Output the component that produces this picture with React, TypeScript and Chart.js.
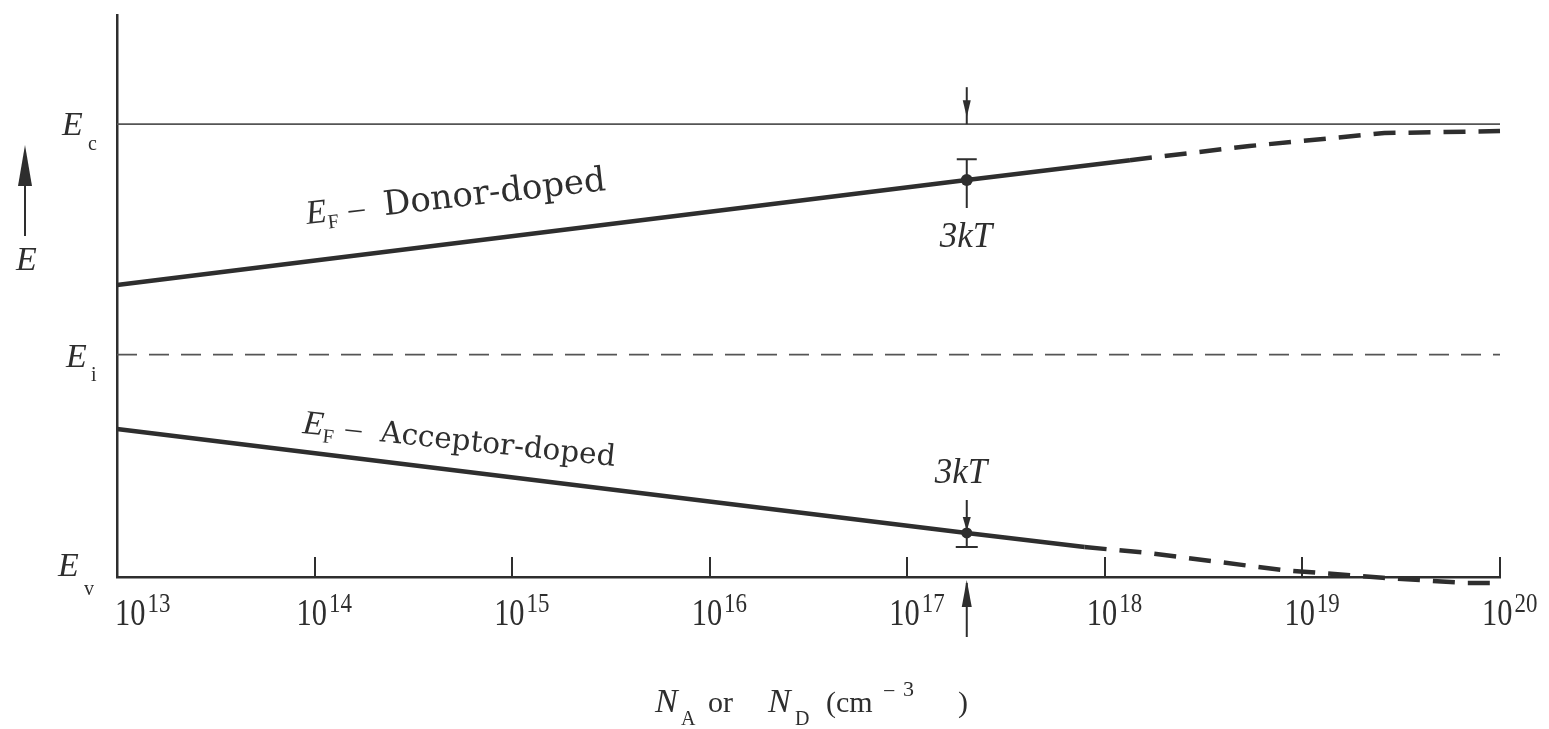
import React, { useEffect, useRef } from "react";
import { Chart, registerables } from "chart.js";

Chart.register(...registerables);

// ---- data ----
const decades = [1e13, 1e14, 1e15, 1e16, 1e17, 1e18, 1e19, 1e20];
const exponentLabels = ["13", "14", "15", "16", "17", "18", "19", "20"];

const levelEc = 1.12;
const levelEi = 0.55;
const levelEv = 0;

const donorSolidX = [1e13, 2e17, 1.34e18];
const donorSolidE = [0.722, 0.982, 1.031];
const donorDashX = [1.34e18, 5.4e18, 2.6e19, 1e20];
const donorDashE = [1.031, 1.066, 1.098, 1.103];

const acceptorSolidX = [1e13, 2e17, 7.9e17];
const acceptorSolidE = [0.366, 0.109, 0.074];
const acceptorDashX = [7.9e17, 1.69e18, 7.96e18, 2.55e19, 6.8e19, 1e20];
const acceptorDashE = [0.074, 0.059, 0.017, -0.002, -0.015, -0.015];

const markerX = 2e17;

const INK = "#2e2e2e";

const pts = (xs: number[], ys: number[]) => xs.map((x, i) => ({ x, y: ys[i] }));

type Part = { t: string; font: string; dx?: number; dy?: number; sx?: number };

function drawParts(ctx: CanvasRenderingContext2D, x: number, y: number, angle: number, parts: Part[]) {
  ctx.save();
  ctx.translate(x, y);
  ctx.rotate(angle);
  let cx = 0;
  for (const p of parts) {
    cx += p.dx || 0;
    ctx.font = p.font;
    const sx = p.sx || 1;
    const w = ctx.measureText(p.t).width * sx;
    ctx.save();
    ctx.translate(cx, p.dy || 0);
    ctx.scale(sx, 1);
    ctx.fillText(p.t, 0, 0);
    ctx.restore();
    cx += w;
  }
  ctx.restore();
}

function tri(ctx: CanvasRenderingContext2D, x: number, tipY: number, baseY: number, half: number) {
  ctx.beginPath();
  ctx.moveTo(x, tipY);
  ctx.lineTo(x - half, baseY);
  ctx.lineTo(x + half, baseY);
  ctx.closePath();
  ctx.fill();
}

const annotPlugin = {
  id: "annot",
  afterDraw(chart: any) {
    const { ctx } = chart;
    const xs = chart.scales.x;
    const ys = chart.scales.y;
    const y0 = ys.getPixelForValue(levelEv);
    ctx.save();
    ctx.fillStyle = INK;
    ctx.strokeStyle = INK;
    ctx.textBaseline = "alphabetic";
    ctx.textAlign = "left";

    // inner tick marks
    ctx.lineWidth = 2;
    for (let i = 1; i < decades.length; i++) {
      const px = Math.round(xs.getPixelForValue(decades[i]));
      ctx.beginPath();
      ctx.moveTo(px, y0);
      ctx.lineTo(px, y0 - 20);
      ctx.stroke();
    }

    // tick labels
    for (let i = 0; i < decades.length; i++) {
      const px = xs.getPixelForValue(decades[i]);
      const start = Math.min(Math.max(px - 18, 115), 1549 - 57);
      drawParts(ctx, start, 625, 0, [
        { t: "10", font: "38px 'Liberation Serif'", sx: 0.8 },
        { t: exponentLabels[i], font: "27px 'Liberation Serif'", dx: 2, dy: -13, sx: 0.85 },
      ]);
    }

    // axis title
    const ser = "'Liberation Serif'";
    drawParts(ctx, 655, 712, 0, [{ t: "N", font: `italic 34px ${ser}` }]);
    drawParts(ctx, 681, 725, 0, [{ t: "A", font: `20px ${ser}` }]);
    drawParts(ctx, 708, 712, 0, [{ t: "or", font: `30px ${ser}` }]);
    drawParts(ctx, 768, 712, 0, [{ t: "N", font: `italic 34px ${ser}` }]);
    drawParts(ctx, 795, 725, 0, [{ t: "D", font: `20px ${ser}` }]);
    drawParts(ctx, 826, 712, 0, [{ t: "(cm", font: `30px ${ser}` }]);
    drawParts(ctx, 883, 698, 0, [{ t: "\u2212", font: `22px ${ser}` }]);
    drawParts(ctx, 903, 696, 0, [{ t: "3", font: `22px ${ser}` }]);
    drawParts(ctx, 958, 712, 0, [{ t: ")", font: `30px ${ser}` }]);

    // left level labels
    const italE = `italic 34px ${ser}`;
    drawParts(ctx, 62, 135, 0, [{ t: "E", font: italE }]);
    drawParts(ctx, 88, 150, 0, [{ t: "c", font: `20px ${ser}` }]);
    drawParts(ctx, 66, 367, 0, [{ t: "E", font: italE }]);
    drawParts(ctx, 91, 381, 0, [{ t: "i", font: `20px ${ser}` }]);
    drawParts(ctx, 58, 576, 0, [{ t: "E", font: italE }]);
    drawParts(ctx, 84, 595, 0, [{ t: "v", font: `20px ${ser}` }]);

    // energy arrow
    ctx.lineWidth = 2;
    ctx.beginPath();
    ctx.moveTo(25, 236);
    ctx.lineTo(25, 170);
    ctx.stroke();
    tri(ctx, 25, 145, 186, 7);
    drawParts(ctx, 16, 270, 0, [{ t: "E", font: italE }]);

    // region labels
    const lab = "'DejaVu Serif'";
    drawParts(ctx, 307, 224, -0.113, [
      { t: "E", font: `italic 34px ${ser}` },
      { t: "F", font: `20px ${ser}`, dy: 7 },
      { t: "\u2013", font: `32px ${ser}`, dx: 11 },
      { t: "Donor-doped", font: `34px ${lab}`, dx: 19 },
    ]);
    drawParts(ctx, 302, 433, 0.105, [
      { t: "E", font: `italic 34px ${ser}` },
      { t: "F", font: `20px ${ser}`, dy: 7 },
      { t: "\u2013", font: `32px ${ser}`, dx: 11 },
      { t: "Acceptor-doped", font: `29.5px ${lab}`, dx: 19 },
    ]);

    // 3kT markers
    const mx = xs.getPixelForValue(markerX);
    const pEc = ys.getPixelForValue(levelEc);
    const pDon = ys.getPixelForValue(donorSolidE[1]);
    const pAcc = ys.getPixelForValue(acceptorSolidE[1]);

    ctx.lineWidth = 2;
    // top arrow onto Ec
    ctx.beginPath();
    ctx.moveTo(mx, pEc - 37);
    ctx.lineTo(mx, pEc);
    ctx.stroke();
    tri(ctx, mx, pEc - 7, pEc - 24, 4);

    // donor dimension
    ctx.beginPath();
    ctx.moveTo(mx - 10, pEc + 35);
    ctx.lineTo(mx + 10, pEc + 35);
    ctx.moveTo(mx, pEc + 35);
    ctx.lineTo(mx, pDon + 28);
    ctx.stroke();
    ctx.beginPath();
    ctx.arc(mx, pDon, 6, 0, Math.PI * 2);
    ctx.fill();
    drawParts(ctx, mx - 27, 247, 0, [{ t: "3kT", font: `italic 35px ${ser}` }]);

    // acceptor dimension
    ctx.beginPath();
    ctx.moveTo(mx, pAcc - 33);
    ctx.lineTo(mx, y0 - 30);
    ctx.moveTo(mx - 11, y0 - 30);
    ctx.lineTo(mx + 11, y0 - 30);
    ctx.stroke();
    ctx.beginPath();
    ctx.arc(mx, pAcc, 5.5, 0, Math.PI * 2);
    ctx.fill();
    tri(ctx, mx, pAcc - 2, pAcc - 16, 4);
    drawParts(ctx, mx - 32, 483, 0, [{ t: "3kT", font: `italic 35px ${ser}` }]);

    // bottom arrow onto Ev axis
    ctx.beginPath();
    ctx.moveTo(mx, y0 + 6);
    ctx.lineTo(mx, y0 + 60);
    ctx.stroke();
    tri(ctx, mx, y0 + 3, y0 + 30, 5);

    ctx.restore();
  },
};

export default function App() {
  const ref = useRef<HTMLCanvasElement | null>(null);
  useEffect(() => {
    document.body.style.margin = "0";
    const canvas = ref.current;
    if (!canvas) return;
    const chart = new Chart(canvas, {
      type: "line",
      data: {
        datasets: [
          {
            label: "Ec",
            data: pts([decades[0], decades[decades.length - 1]], [levelEc, levelEc]),
            borderColor: "#555",
            borderWidth: 1.6,
            pointRadius: 0,
          },
          {
            label: "Ei",
            data: pts([decades[0], decades[decades.length - 1]], [levelEi, levelEi]),
            borderColor: "#555",
            borderWidth: 1.6,
            borderDash: [20, 12],
            pointRadius: 0,
          },
          {
            label: "Donor",
            data: pts(donorSolidX, donorSolidE),
            borderColor: INK,
            borderWidth: 4.5,
            pointRadius: 0,
          },
          {
            label: "Donor (dashed)",
            data: pts(donorDashX, donorDashE),
            borderColor: INK,
            borderWidth: 4.5,
            borderDash: [22, 13],
            pointRadius: 0,
          },
          {
            label: "Acceptor",
            data: pts(acceptorSolidX, acceptorSolidE),
            borderColor: INK,
            borderWidth: 4.5,
            pointRadius: 0,
          },
          {
            label: "Acceptor (dashed)",
            data: pts(acceptorDashX, acceptorDashE),
            borderColor: INK,
            borderWidth: 4.5,
            borderDash: [22, 13],
            pointRadius: 0,
          },
        ] as any,
      },
      options: {
        animation: false,
        responsive: false,
        devicePixelRatio: 1,
        layout: { padding: { left: 117, right: 49, top: 15, bottom: 152 } },
        plugins: { legend: { display: false }, tooltip: { enabled: false } },
        elements: { line: { tension: 0, borderCapStyle: "butt" } },
        datasets: { line: { clip: false } as any },
        scales: {
          x: {
            type: "logarithmic",
            min: decades[0],
            max: decades[decades.length - 1],
            grid: { display: false, drawTicks: false },
            border: { display: true, color: INK, width: 2.5 },
            ticks: { display: false },
          },
          y: {
            type: "linear",
            min: 0,
            max: 1.39,
            grid: { display: false, drawTicks: false },
            border: { display: true, color: INK, width: 2.5 },
            ticks: { display: false },
          },
        },
      },
      plugins: [annotPlugin],
    });
    return () => chart.destroy();
  }, []);
  return (
    <div style={{ width: 1549, height: 729, background: "#fff" }}>
      <canvas ref={ref} width={1549} height={729} style={{ display: "block" }} />
    </div>
  );
}
